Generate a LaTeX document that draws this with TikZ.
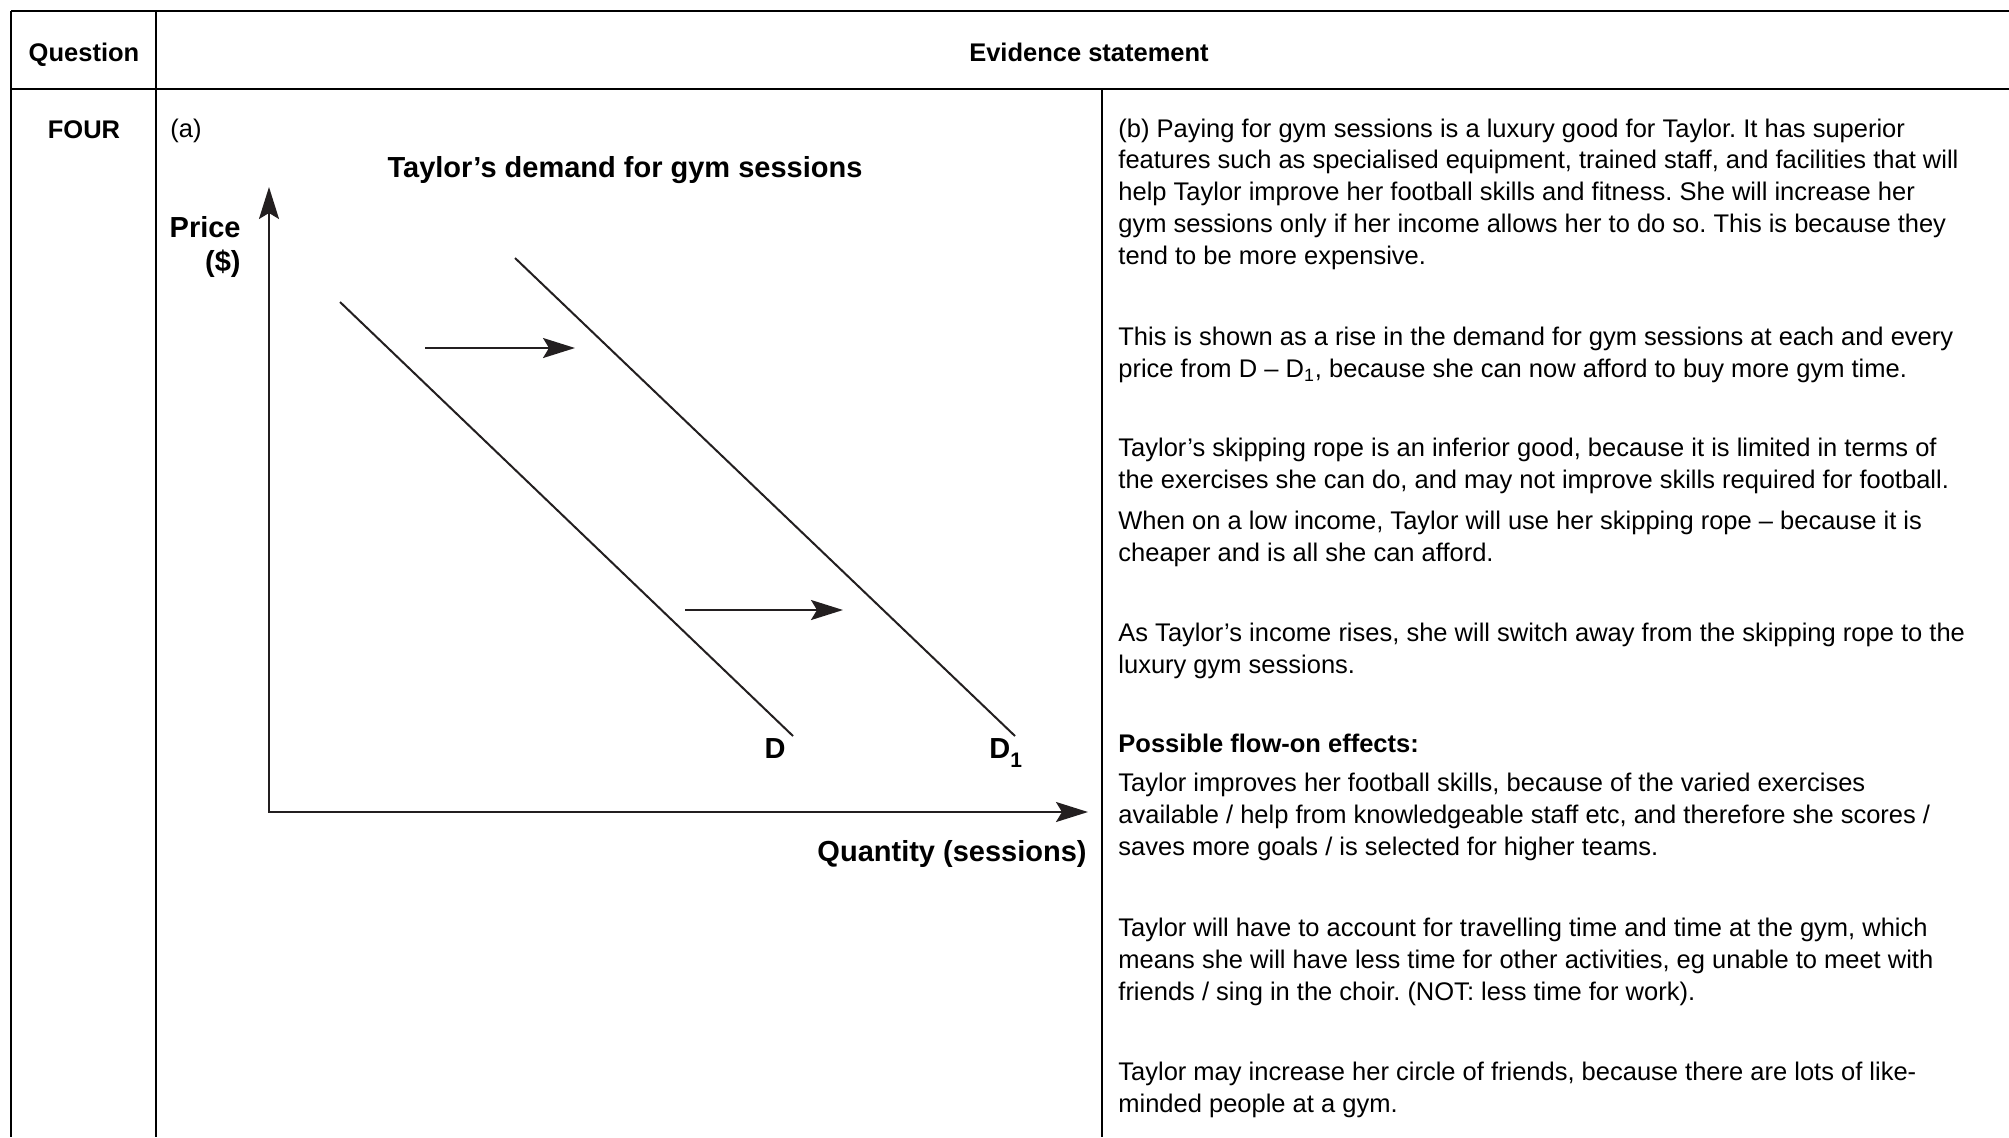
\documentclass[tikz,border=0pt]{standalone}
\usepackage{fontspec}
\setmainfont{Liberation Sans}
\usepackage{tikz}
\usetikzlibrary{positioning}
\usetikzlibrary{arrows.meta}
\definecolor{inkgrey}{RGB}{35,31,32}
\frenchspacing
\newcommand{\lowsub}[1]{\raisebox{-4.5pt}{\fontsize{10.5}{12}\selectfont #1}}
\tikzset{rule line/.style={line width=1.15pt,black},
  body text/.style={anchor=base west,align=left,inner sep=0pt,font=\fontsize{12.75}{15.85}\selectfont},
  head text/.style={anchor=base,inner sep=0pt,font=\fontsize{12.75}{15.85}\selectfont\bfseries},
  graph label/.style={inner sep=0pt,font=\fontsize{14.5}{17}\selectfont\bfseries},
  curve/.style={line width=1pt,inkgrey},
  axis/.style={line width=1pt,inkgrey,<->},
  shift arrow/.style={line width=1pt,inkgrey,->},}

\begin{document}
\begin{tikzpicture}[x=0.5pt,y=-0.5pt,>={Stealth[length=16pt,width=10pt,inset=3pt]}]
	\useasboundingbox (0,0) rectangle (2009,1137);
	% table rules
	\draw[rule line] (11,11) -- (2009,11);
	\draw[rule line] (11,89) -- (2009,89);
	\draw[rule line] (11,11) -- (11,1137);
	\draw[rule line] (156,11) -- (156,1137);
	\draw[rule line] (1102,89) -- (1102,1137);

	\node[head text] (question) at (84,61) {Question};
	\node[head text] (evidence) at (1089,61) {Evidence statement};
	\node[head text] (four) at (84,138) {FOUR};
	\node[body text] (parta) at (170,137) {(a)};

	% graph
	\coordinate (O) at (269,812);
	\coordinate (ytip) at (269,187);
	\coordinate (xtip) at (1088,812);
	\draw[axis] (ytip) -- (O) -- (xtip);

	\node[graph label,anchor=base] (title) at (625,177) {Taylor’s demand for gym sessions};
	\node[graph label,anchor=base east] (price) at (241,237) {Price};
	\node[graph label,anchor=base east] (dollar) at (241,271) {(\$)};
	\node[graph label,anchor=base east] (qty) at (1087,861) {Quantity (sessions)};

	\coordinate (dtop) at (340,302);
	\coordinate (dbot) at (793,736);
	\coordinate (donetop) at (515,258);
	\coordinate (donebot) at (1015,736);
	\draw[curve] (dtop) -- (dbot);
	\draw[curve] (donetop) -- (donebot);
	\node[graph label,anchor=base] (D) at (775,758) {D};
	\node[graph label,anchor=base west] (D1) at (989,758) {D\lowsub{1}};

	\coordinate (sa) at (425,348);
	\coordinate (sae) at (575,348);
	\coordinate (sb) at (685,610);
	\coordinate (sbe) at (843,610);
	\draw[shift arrow] (sa) -- (sae);
	\draw[shift arrow] (sb) -- (sbe);

	% evidence text (placed at the baseline of the last line)
	\node[body text] (luxury) at (1118,264) {(b) Paying for gym sessions is a luxury good for Taylor. It has superior\\
		features such as specialised equipment, trained staff, and facilities that will\\
		help Taylor improve her football skills and fitness. She will increase her\\
		gym sessions only if her income allows her to do so. This is because they\\
		tend to be more expensive.};
	\node[body text] (shown) at (1118,377) {This is shown as a rise in the demand for gym sessions at each and every\\
		price from D – D\textsubscript{1}, because she can now afford to buy more gym time.};
	\node[body text] (inferior) at (1118,488) {Taylor’s skipping rope is an inferior good, because it is limited in terms of\\
		the exercises she can do, and may not improve skills required for football.};
	\node[body text] (lowinc) at (1118,561) {When on a low income, Taylor will use her skipping rope – because it is\\
		cheaper and is all she can afford.};
	\node[body text] (rises) at (1118,673) {As Taylor’s income rises, she will switch away from the skipping rope to the\\
		luxury gym sessions.};
	\node[body text,font=\fontsize{12.75}{15.85}\selectfont\bfseries] (flow) at (1118,752) {Possible flow-on effects:};
	\node[body text] (skills) at (1118,855) {Taylor improves her football skills, because of the varied exercises\\
		available / help from knowledgeable staff etc, and therefore she scores /\\
		saves more goals / is selected for higher teams.};
	\node[body text] (travel) at (1118,1000) {Taylor will have to account for travelling time and time at the gym, which\\
		means she will have less time for other activities, eg unable to meet with\\
		friends / sing in the choir. (NOT: less time for work).};
	\node[body text] (friends) at (1118,1112) {Taylor may increase her circle of friends, because there are lots of like-\\
		minded people at a gym.};
\end{tikzpicture}
\end{document}
